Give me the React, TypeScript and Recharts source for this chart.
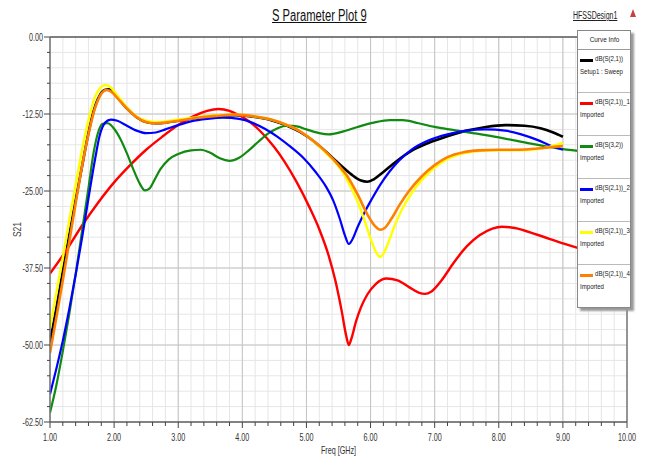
import { LineChart, Line, XAxis, YAxis, CartesianGrid, ReferenceLine } from 'recharts';

const FONT = '"Liberation Sans", Arial, sans-serif';

const freqTicks = [1, 2, 3, 4, 5, 6, 7, 8, 9, 10];
const dbTicks = [0, -12.5, -25, -37.5, -50, -62.5];
// minor divisions: 0.2 GHz and 2.5 dB
const minorFreq = Array.from({ length: 46 }, (_, i) => Math.round((1 + i * 0.2) * 10) / 10);
const minorDb = Array.from({ length: 26 }, (_, i) => -i * 2.5);

type Pt = [number, number];

const s21Sweep: Pt[] = [
  [1.0, -49.5], [1.1, -44], [1.2, -38], [1.3, -32.2], [1.4, -26.5], [1.5, -21], [1.58, -16.6],
  [1.66, -12.8], [1.75, -10], [1.85, -8.6], [1.92, -8.5], [2.0, -9.1], [2.1, -10.4], [2.2, -11.6],
  [2.35, -13], [2.5, -13.8], [2.65, -14], [2.8, -13.9], [3.0, -13.6], [3.3, -13.1], [3.6, -12.8],
  [3.9, -12.7], [4.2, -13], [4.45, -13.5], [4.7, -14.4], [4.9, -15.4], [5.1, -16.8], [5.3, -18.6],
  [5.5, -20.5], [5.7, -22.3], [5.85, -23.3], [5.95, -23.5], [6.05, -23.1], [6.2, -21.9],
  [6.4, -20.2], [6.65, -18.4], [6.9, -17.2], [7.2, -16.1], [7.5, -15.2], [7.8, -14.6],
  [8.1, -14.3], [8.4, -14.4], [8.65, -14.8], [8.85, -15.5], [9.0, -16.2],
];

const s21Imp1: Pt[] = [
  [1.0, -38.4], [1.25, -34.7], [1.5, -30.6], [1.75, -26.9], [2.0, -23.6], [2.25, -20.8],
  [2.5, -18.3], [2.75, -16.2], [3.0, -14.3], [3.25, -12.8], [3.45, -12], [3.63, -11.7],
  [3.8, -12], [3.95, -12.7], [4.12, -13.8], [4.3, -15.5], [4.5, -17.9], [4.65, -20.1],
  [4.85, -23.6], [5.05, -27.7], [5.2, -31.2], [5.35, -35.6], [5.45, -39.5], [5.55, -44.5],
  [5.62, -48.5], [5.66, -50], [5.7, -49], [5.77, -46.3], [5.85, -43.9], [5.95, -41.8],
  [6.08, -40.1], [6.25, -39.2], [6.42, -39.5], [6.6, -40.6], [6.75, -41.5], [6.85, -41.7],
  [6.95, -41.3], [7.1, -39.6], [7.3, -36.6], [7.5, -34], [7.7, -32.2], [7.9, -31.1],
  [8.05, -30.8], [8.25, -31], [8.6, -32.1], [9.0, -33.5], [9.25, -34.3], [9.6, -35.2], [10, -36.2],
];

const s32Imp: Pt[] = [
  [1.0, -61], [1.1, -56.5], [1.2, -51], [1.3, -45], [1.4, -38.5], [1.5, -31.5], [1.6, -24.5],
  [1.68, -18.8], [1.75, -15.5], [1.82, -14.1], [1.9, -14], [2.0, -14.9], [2.1, -16.6],
  [2.2, -18.9], [2.3, -21.5], [2.4, -23.8], [2.48, -24.9], [2.55, -24.6], [2.63, -23.2],
  [2.72, -21.5], [2.85, -19.9], [3.0, -19], [3.2, -18.4], [3.35, -18.3], [3.5, -18.8],
  [3.65, -19.7], [3.8, -20.1], [3.95, -19.6], [4.1, -18.4], [4.25, -17], [4.4, -15.7],
  [4.55, -14.8], [4.7, -14.4], [4.85, -14.5], [5.0, -15], [5.2, -15.6], [5.35, -15.8],
  [5.55, -15.4], [5.8, -14.6], [6.05, -13.9], [6.3, -13.5], [6.5, -13.5], [6.75, -14],
  [7.0, -14.6], [7.3, -15.1], [7.6, -15.6], [8.0, -16.3], [8.5, -17.3], [9.0, -18.2],
  [9.25, -18.5], [9.6, -19], [10, -19.5],
];

const s21Imp2: Pt[] = [
  [1.0, -58], [1.1, -53.8], [1.2, -49.3], [1.3, -44.2], [1.4, -38.6], [1.5, -32.6], [1.6, -26.2],
  [1.7, -20], [1.78, -15.8], [1.86, -13.9], [1.95, -13.4], [2.05, -13.6], [2.2, -14.4],
  [2.35, -15.2], [2.5, -15.6], [2.65, -15.5], [2.8, -15], [3.0, -14.3], [3.2, -13.7],
  [3.45, -13.3], [3.7, -13.1], [3.95, -13.3], [4.15, -13.9], [4.35, -14.9], [4.55, -16.2],
  [4.75, -17.8], [4.95, -19.6], [5.15, -22], [5.3, -24.2], [5.42, -26.6], [5.52, -29.5],
  [5.6, -32.2], [5.66, -33.6], [5.72, -32.8], [5.8, -30.8], [5.9, -28.6], [6.02, -26.3],
  [6.15, -24], [6.3, -21.8], [6.45, -20], [6.65, -18.2], [6.9, -16.8], [7.2, -15.8],
  [7.5, -15.2], [7.8, -15], [8.1, -15.2], [8.35, -15.8], [8.6, -16.7], [8.8, -17.6], [9.0, -18.3],
];

const s21Imp3: Pt[] = [
  [1.0, -47.3], [1.1, -41.5], [1.2, -35.8], [1.3, -29.8], [1.4, -24], [1.5, -18.3], [1.6, -13.5],
  [1.7, -9.8], [1.78, -8.3], [1.86, -7.8], [1.95, -8.2], [2.05, -9.5], [2.2, -11.4],
  [2.35, -12.9], [2.5, -13.6], [2.65, -13.8], [2.8, -13.7], [3.0, -13.4], [3.3, -13],
  [3.6, -12.7], [3.9, -12.6], [4.2, -12.9], [4.45, -13.4], [4.7, -14.3], [4.9, -15.3],
  [5.1, -16.8], [5.3, -18.8], [5.5, -21], [5.65, -23.5], [5.8, -26.8], [5.92, -30.2],
  [6.02, -33.3], [6.1, -35.2], [6.15, -35.7], [6.2, -35.2], [6.28, -33.3], [6.38, -30.5],
  [6.5, -27.8], [6.65, -25.2], [6.8, -23.2], [7.0, -21.2], [7.2, -19.8], [7.45, -18.9],
  [7.7, -18.5], [8.0, -18.4], [8.3, -18.4], [8.6, -18.2], [8.8, -17.8], [9.0, -17.2],
];

const s21Imp4: Pt[] = [
  [1.0, -51.3], [1.1, -45.5], [1.2, -39.5], [1.3, -33.3], [1.4, -27], [1.5, -21], [1.6, -15.8],
  [1.7, -11.6], [1.8, -9.2], [1.88, -8.6], [1.96, -8.9], [2.05, -9.9], [2.2, -11.6],
  [2.35, -13], [2.5, -13.8], [2.65, -14], [2.8, -13.9], [3.0, -13.6], [3.3, -13.1],
  [3.6, -12.8], [3.9, -12.6], [4.2, -12.9], [4.45, -13.4], [4.7, -14.3], [4.9, -15.3],
  [5.1, -16.8], [5.3, -18.6], [5.5, -20.8], [5.65, -22.8], [5.8, -25.6], [5.95, -28.8],
  [6.07, -30.7], [6.15, -31.3], [6.22, -31], [6.32, -29.6], [6.45, -27.3], [6.6, -25],
  [6.8, -22.6], [7.0, -20.8], [7.2, -19.5], [7.45, -18.7], [7.7, -18.4], [8.0, -18.3],
  [8.3, -18.3], [8.6, -18.1], [8.8, -17.9], [9.0, -17.7],
];

const curves = [
  { name: 'dB(S(2,1))', sub: 'Setup1 : Sweep', color: '#000000', width: 2.6, pts: s21Sweep },
  { name: 'dB(S(2,1))_1', sub: 'Imported', color: '#ff0000', width: 2.4, pts: s21Imp1 },
  { name: 'dB(S(3,2))', sub: 'Imported', color: '#118a11', width: 2.2, pts: s32Imp },
  { name: 'dB(S(2,1))_2', sub: 'Imported', color: '#0000ff', width: 2.2, pts: s21Imp2 },
  { name: 'dB(S(2,1))_3', sub: 'Imported', color: '#ffff00', width: 2.4, pts: s21Imp3 },
  { name: 'dB(S(2,1))_4', sub: 'Imported', color: '#ff8000', width: 2.6, pts: s21Imp4 },
];

const X_DOMAIN: [number, number] = [1, 10];
const Y_DOMAIN: [number, number] = [-62.5, 0];
const SQUEEZE = 0.72; // the plot uses a very condensed face

const isMajor = (v: number, step: number) => Math.abs(v / step - Math.round(v / step)) < 1e-6;

const XTick = (props: any) => {
  const { x, y, payload } = props;
  const v = payload.value;
  const major = isMajor(v, 1);
  return (
    <g>
      <line x1={x} y1={y} x2={x} y2={y + (major ? 6 : 4)} stroke="#444" strokeWidth={1} />
      {major && (
        <text
          transform={`translate(${x},${y + 18.5}) scale(${SQUEEZE},1)`}
          textAnchor="middle" fontSize={10} fill="#333" fontFamily={FONT}
        >
          {v.toFixed(2)}
        </text>
      )}
    </g>
  );
};

const YTick = (props: any) => {
  const { x, y, payload } = props;
  const v = payload.value;
  const major = isMajor(v, 12.5);
  return (
    <g>
      <line x1={x} y1={y} x2={x - (major ? 6 : 3)} y2={y} stroke="#444" strokeWidth={1} />
      {major && (
        <text
          transform={`translate(${x - 7},${y + 3.5}) scale(${SQUEEZE},1)`}
          textAnchor="end" fontSize={10} fill="#333" fontFamily={FONT}
        >
          {v.toFixed(2)}
        </text>
      )}
    </g>
  );
};

const XLabel = ({ viewBox }: any) => (
  <text
    transform={`translate(${viewBox.x + viewBox.width / 2},${viewBox.y + 32}) scale(${SQUEEZE},1)`}
    textAnchor="middle" fontSize={10} fill="#333" fontFamily={FONT}
  >
    Freq [GHz]
  </text>
);

const YLabel = ({ viewBox }: any) => (
  <text
    transform={`translate(${viewBox.x + 13},${viewBox.y + viewBox.height / 2}) rotate(-90) scale(0.85,1)`}
    textAnchor="middle" fontSize={10} fill="#444" fontFamily={FONT}
  >
    S21
  </text>
);

// major grid positions from the plot offset (linear axes)
const majorVertical = ({ offset }: any) =>
  freqTicks.map((v) => offset.left + ((v - X_DOMAIN[0]) / (X_DOMAIN[1] - X_DOMAIN[0])) * offset.width);
const majorHorizontal = ({ offset }: any) =>
  dbTicks.map((v) => offset.top + ((Y_DOMAIN[1] - v) / (Y_DOMAIN[1] - Y_DOMAIN[0])) * offset.height);

const squeezed = (s: number) => ({ display: 'inline-block', transform: `scaleX(${s})`, transformOrigin: 'left center' });

export default function App() {
  return (
    <div style={{ position: 'absolute', left: 0, top: 0, width: 646, height: 462, background: '#fff', fontFamily: FONT }}>
      <LineChart width={646} height={462} margin={{ top: 37, right: 19, bottom: 4, left: 8 }}>
        <CartesianGrid stroke="#e6e6e6" strokeWidth={1} />
        <CartesianGrid
          stroke="#c4c4c4"
          strokeWidth={1}
          verticalCoordinatesGenerator={majorVertical}
          horizontalCoordinatesGenerator={majorHorizontal}
        />
        <XAxis
          type="number"
          dataKey="f"
          domain={X_DOMAIN}
          ticks={minorFreq}
          interval={0}
          allowDataOverflow
          height={36}
          tickSize={0}
          tickMargin={0}
          tick={<XTick />}
          axisLine={{ stroke: '#666', strokeWidth: 1.5 }}
          label={<XLabel />}
        />
        <YAxis
          type="number"
          dataKey="db"
          domain={Y_DOMAIN}
          ticks={minorDb}
          interval={0}
          allowDataOverflow
          width={42}
          tickSize={0}
          tickMargin={0}
          tick={<YTick />}
          axisLine={{ stroke: '#777', strokeWidth: 1.5 }}
          label={<YLabel />}
        />
        <ReferenceLine y={0} stroke="#222" strokeWidth={1.2} />
        <ReferenceLine x={10} stroke="#666" strokeWidth={1.2} />
        {curves.map((c) => (
          <Line
            key={c.name}
            data={c.pts.map(([f, db]) => ({ f, db }))}
            dataKey="db"
            type="monotone"
            stroke={c.color}
            strokeWidth={c.width}
            dot={false}
            activeDot={false}
            isAnimationActive={false}
          />
        ))}
      </LineChart>

      <div style={{ position: 'absolute', left: 272, top: 7, fontSize: 16, color: '#111', whiteSpace: 'nowrap' }}>
        <span style={{ ...squeezed(0.7), textDecoration: 'underline' }}>S Parameter Plot 9</span>
      </div>
      <div style={{ position: 'absolute', left: 573, top: 10, fontSize: 10, color: '#222', whiteSpace: 'nowrap' }}>
        <span style={{ ...squeezed(0.7), textDecoration: 'underline' }}>HFSSDesign1</span>
      </div>
      <div
        style={{
          position: 'absolute', left: 630, top: 9, width: 0, height: 0,
          borderLeft: '3.5px solid transparent', borderRight: '3.5px solid transparent', borderBottom: '8px solid #c84040',
        }}
      />

      <div
        style={{
          position: 'absolute', left: 577, top: 30, width: 54, height: 278, background: '#fff',
          border: '1px solid #888', boxShadow: '3px 3px 2px #999', boxSizing: 'border-box', overflow: 'hidden',
        }}
      >
        <div style={{ height: 18, borderBottom: '1px solid #999', textAlign: 'center', fontSize: 8, lineHeight: '18px', color: '#222' }}>
          <span style={{ display: 'inline-block', transform: 'scaleX(0.8)' }}>Curve Info</span>
        </div>
        {curves.map((c, i) => (
          <div
            key={c.name}
            style={{ position: 'relative', height: 43, borderBottom: i < curves.length - 1 ? '1px solid #bbb' : 'none', boxSizing: 'border-box' }}
          >
            <div style={{ position: 'absolute', left: 2, top: 9, width: 13, height: 2.5, background: c.color }} />
            <div style={{ position: 'absolute', left: 17, top: 4, fontSize: 8, whiteSpace: 'nowrap', color: '#222' }}>
              <span style={squeezed(0.76)}>{c.name}</span>
            </div>
            <div style={{ position: 'absolute', left: 2, top: 17, fontSize: 8, whiteSpace: 'nowrap', color: '#222' }}>
              <span style={squeezed(0.76)}>{c.sub}</span>
            </div>
          </div>
        ))}
      </div>
    </div>
  );
}
